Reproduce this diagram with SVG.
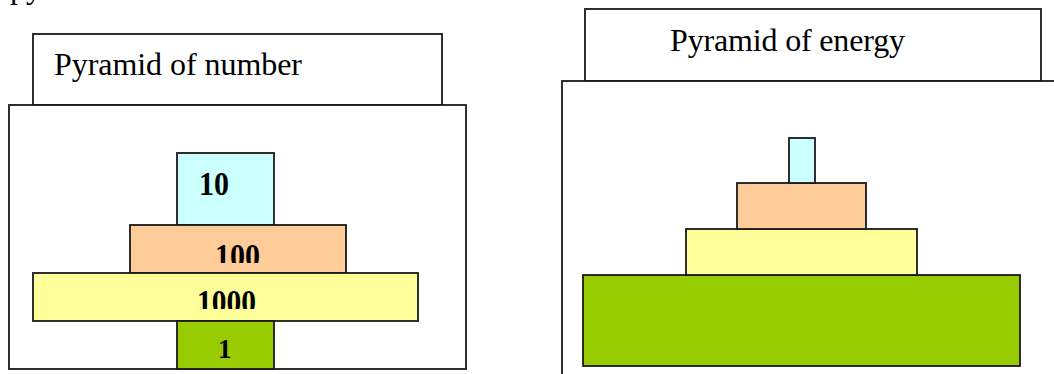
<svg xmlns="http://www.w3.org/2000/svg" width="1054" height="374" viewBox="0 0 1054 374">
  <style>
    .frame { fill: #ffffff; stroke: #1a1a1a; stroke-width: 1.8; }
    .tier { stroke: #1a1a1a; stroke-width: 1.8; }
    .title { font-family: "Liberation Serif", "Times New Roman", serif; font-size: 32px; fill: #000000; }
    .num { font-family: "Liberation Serif", "Times New Roman", serif; font-size: 33px; font-weight: bold; fill: #000000; }
    .cyan { fill: #ccffff; }
    .peach { fill: #ffcc99; }
    .lemon { fill: #ffff99; }
    .lime { fill: #99cc00; }
  </style>
  <defs>
    <clipPath id="clip100"><rect x="130" y="225" width="216" height="38"/></clipPath>
    <clipPath id="clip1000"><rect x="33" y="273" width="385" height="36"/></clipPath>
  </defs>
  <rect width="1054" height="374" fill="#ffffff"/>

  <!-- running text line, mostly above the top edge -->
  <text class="title" x="10" y="-2">pyramids are as follows:</text>

  <!-- pyramid of number -->
  <g id="number-pyramid">
    <g id="number-title">
      <rect class="frame" x="33" y="34" width="409" height="71"/>
      <text class="title" x="54" y="75" textLength="248">Pyramid of number</text>
    </g>
    <rect class="frame" x="9" y="105" width="457" height="264"/>
    <g id="tier-10">
      <rect class="tier cyan" x="177" y="153" width="97" height="72"/>
      <text class="num" x="199" y="195" textLength="30" lengthAdjust="spacingAndGlyphs">10</text>
    </g>
    <g id="tier-100">
      <rect class="tier peach" x="130" y="225" width="216" height="48"/>
      <text class="num" x="215" y="267" textLength="45" lengthAdjust="spacingAndGlyphs" clip-path="url(#clip100)">100</text>
    </g>
    <g id="tier-1000">
      <rect class="tier lemon" x="33" y="273" width="385" height="48"/>
      <text class="num" x="197" y="313" textLength="59" lengthAdjust="spacingAndGlyphs" clip-path="url(#clip1000)">1000</text>
    </g>
    <g id="tier-1">
      <rect class="tier lime" x="177" y="321" width="97" height="48"/>
      <text class="num" x="218" y="358" style="font-size:27px">1</text>
    </g>
  </g>

  <!-- pyramid of energy -->
  <g id="energy-pyramid">
    <g id="energy-title">
      <rect class="frame" x="585" y="9" width="456" height="72"/>
      <text class="title" x="670" y="51" textLength="235">Pyramid of energy</text>
    </g>
    <rect class="frame" x="562" y="81" width="520" height="310"/>
    <rect id="energy-1" class="tier lime" x="583" y="275" width="437" height="91"/>
    <rect id="energy-2" class="tier lemon" x="686" y="229" width="231" height="46"/>
    <rect id="energy-3" class="tier peach" x="737" y="183" width="129" height="46"/>
    <rect id="energy-4" class="tier cyan" x="789" y="138" width="26" height="45"/>
  </g>
</svg>
